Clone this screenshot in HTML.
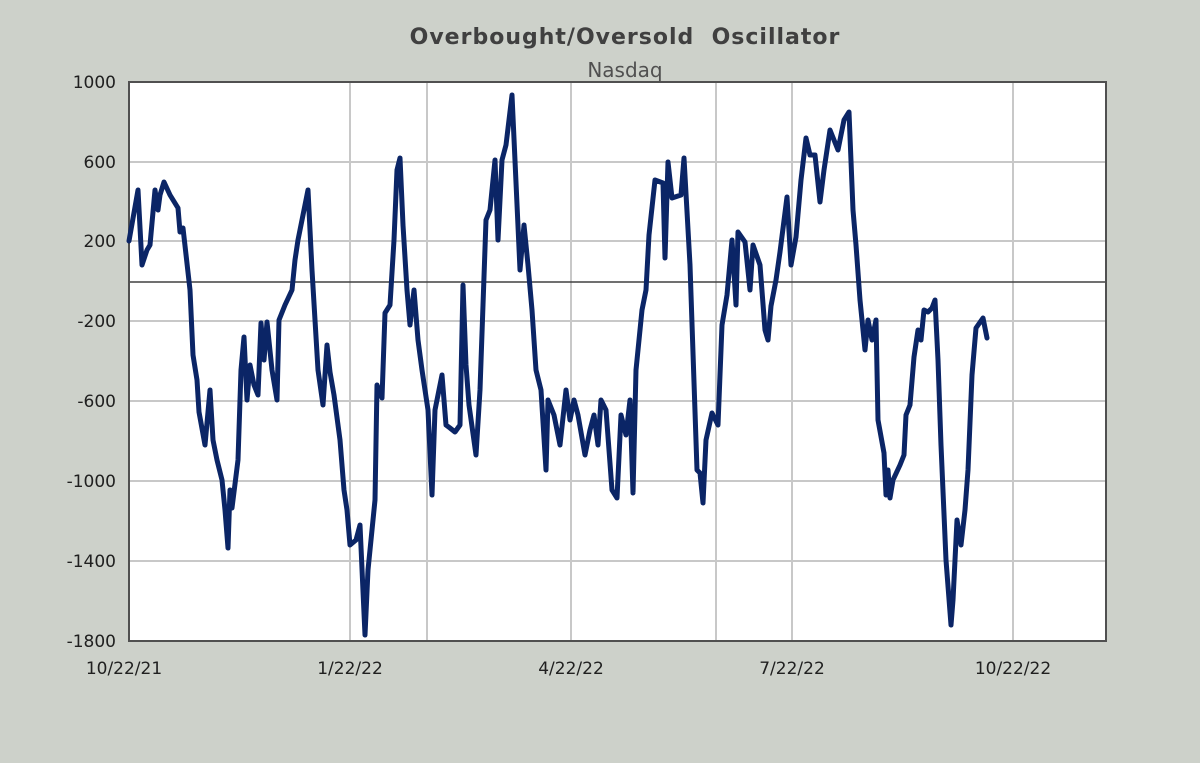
<!DOCTYPE html>
<html><head><style>
body{margin:0;background:#cdd1ca;}
svg{display:block}
</style></head><body>
<svg width="1200" height="763" xmlns="http://www.w3.org/2000/svg">
<rect width="1200" height="763" fill="#cdd1ca"/>
<text x="625" y="44" text-anchor="middle" font-family="DejaVu Sans, sans-serif" font-weight="bold" font-size="22" letter-spacing="1" fill="#404040" xml:space="preserve" style="white-space:pre">Overbought/Oversold  Oscillator</text>
<text x="625" y="77" text-anchor="middle" font-family="DejaVu Sans, sans-serif" font-size="20" fill="#505050">Nasdaq</text>
<rect x="129" y="82" width="977" height="559" fill="#fff"/>
<g stroke="#c8c8c8" stroke-width="2">
<line x1="129" y1="162" x2="1106" y2="162"/><line x1="129" y1="241" x2="1106" y2="241"/>
<line x1="129" y1="321" x2="1106" y2="321"/><line x1="129" y1="401" x2="1106" y2="401"/>
<line x1="129" y1="481" x2="1106" y2="481"/><line x1="129" y1="561" x2="1106" y2="561"/>
<line x1="350" y1="82" x2="350" y2="641"/><line x1="427" y1="82" x2="427" y2="641"/>
<line x1="571" y1="82" x2="571" y2="641"/><line x1="716" y1="82" x2="716" y2="641"/>
<line x1="792" y1="82" x2="792" y2="641"/><line x1="1013" y1="82" x2="1013" y2="641"/>
</g>
<line x1="129" y1="282" x2="1106" y2="282" stroke="#404040" stroke-width="1.5"/>
<rect x="129" y="82" width="977" height="559" fill="none" stroke="#505050" stroke-width="2"/>
<g font-family="DejaVu Sans, sans-serif" font-size="17" fill="#202020" text-anchor="end">
<text x="116" y="88">1000</text><text x="116" y="168">600</text><text x="116" y="247">200</text>
<text x="116" y="327">-200</text><text x="116" y="407">-600</text><text x="116" y="487">-1000</text>
<text x="116" y="567">-1400</text><text x="116" y="647">-1800</text>
</g>
<g font-family="DejaVu Sans, sans-serif" font-size="17" fill="#202020" text-anchor="middle">
<text x="124" y="674">10/22/21</text><text x="350" y="674">1/22/22</text><text x="571" y="674">4/22/22</text>
<text x="792" y="674">7/22/22</text><text x="1013" y="674">10/22/22</text>
</g>
<polyline fill="none" stroke="#0b2566" stroke-width="5" stroke-linejoin="round" stroke-linecap="round" points="129,241 138,190 142,265 147,250 150,245 155,190 158,210 160,195 164,182 170,195 178,208 180,232 183,228 190,290 193,355 197,380 199,412 205,445 210,390 213,440 217,460 222,480 225,510 228,548 230,490 232,508 238,460 241,370 244,337 247,400 250,365 254,385 258,395 261,323 264,360 267,322 272,370 277,400 279,320 285,305 292,290 295,260 298,240 302,220 308,190 312,270 318,370 323,405 327,345 330,372 334,395 340,440 344,490 347,510 350,545 356,540 360,525 365,635 368,570 375,500 377,385 382,398 385,313 390,305 394,240 397,170 400,158 403,225 407,290 410,325 414,290 418,340 422,370 428,410 432,495 435,410 442,375 446,425 450,428 455,432 460,425 463,285 466,365 469,405 476,455 480,390 486,220 490,210 495,160 498,240 502,160 506,145 512,95 520,270 524,225 528,265 532,310 536,370 541,390 546,470 548,400 554,415 560,445 566,390 570,420 574,400 578,415 585,455 590,430 594,415 598,445 601,400 606,410 612,490 617,498 621,415 626,435 630,400 633,493 636,370 642,310 646,290 649,235 655,180 663,183 665,258 668,162 672,198 681,195 684,158 690,265 697,470 700,473 703,503 706,440 712,413 718,425 722,325 727,295 732,240 736,305 738,232 745,242 750,290 753,245 760,265 765,330 768,340 771,306 776,280 780,252 787,197 791,265 796,237 801,180 806,138 810,155 815,155 820,202 824,170 830,130 838,150 844,120 849,112 853,210 856,245 860,300 865,350 868,320 872,340 876,320 878,420 884,453 886,495 888,470 890,498 893,480 900,465 904,455 906,415 910,405 914,357 918,330 921,340 924,310 928,312 932,308 935,300 938,360 941,445 946,560 950,612 951,625 953,600 957,520 961,545 965,510 968,470 972,375 976,328 983,318 987,338"/>
</svg>
</body></html>
